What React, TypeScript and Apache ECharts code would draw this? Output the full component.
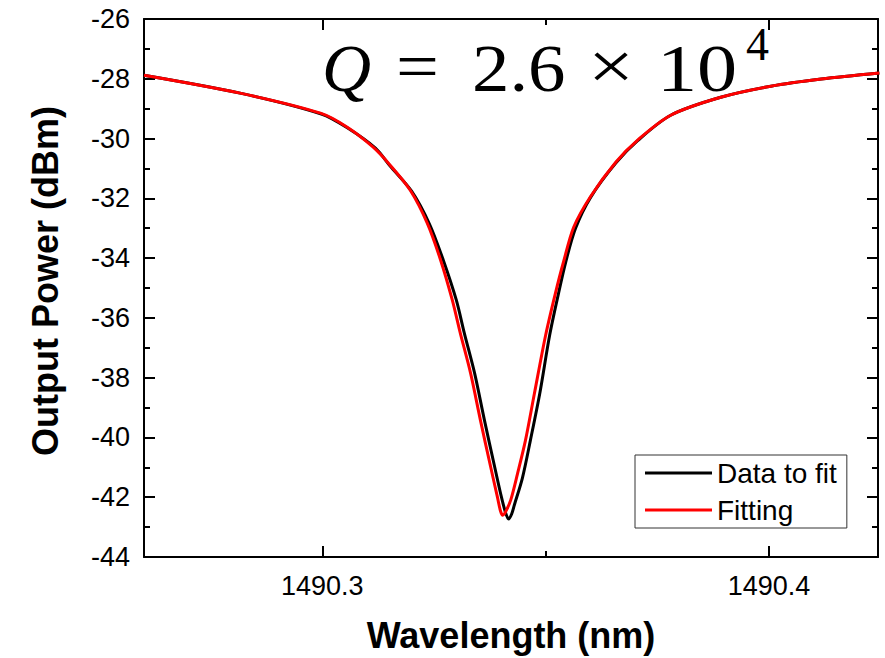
import React, { useEffect, useRef } from "react";
import * as echarts from "echarts";

// Measured transmission dip (black) and Lorentzian fit (red)
const wavelengthData = [
  1490.2601, 1490.2816, 1490.2998, 1490.3056, 1490.3119, 1490.3152, 1490.32,
  1490.324, 1490.3271, 1490.33, 1490.3318, 1490.3341, 1490.3363, 1490.3386,
  1490.3401, 1490.341, 1490.3417, 1490.3424, 1490.343, 1490.3448, 1490.3466,
  1490.3487, 1490.3509, 1490.3529, 1490.3545, 1490.3567, 1490.3601, 1490.3657,
  1490.3706, 1490.378, 1490.3892, 1490.4004, 1490.4117, 1490.4247,
];
const powerData = [
  -27.88, -28.48, -29.18, -29.64, -30.32, -30.92, -31.76, -32.86, -34.07, -35.4,
  -36.51, -37.85, -39.42, -40.99, -41.99, -42.5, -42.73, -42.56, -42.26, -41.36,
  -40.09, -38.52, -36.58, -35.17, -34.13, -33.0, -31.96, -30.82, -30.07, -29.22,
  -28.62, -28.25, -28.01, -27.81,
];

const wavelengthFit = [
  1490.2601, 1490.2816, 1490.2996, 1490.3056, 1490.3114, 1490.3152, 1490.3197,
  1490.3235, 1490.3265, 1490.3291, 1490.3309, 1490.3332, 1490.3354, 1490.3377,
  1490.3392, 1490.3399, 1490.3404, 1490.341, 1490.3422, 1490.3437, 1490.3455,
  1490.3475, 1490.35, 1490.3522, 1490.354, 1490.3563, 1490.3601, 1490.3657,
  1490.3706, 1490.378, 1490.3892, 1490.4004, 1490.4117, 1490.4247,
];
const powerFit = [
  -27.88, -28.48, -29.15, -29.62, -30.29, -30.89, -31.73, -32.83, -34.07, -35.4,
  -36.51, -37.85, -39.42, -40.99, -41.99, -42.46, -42.6, -42.5, -42.09, -41.22,
  -40.09, -38.52, -36.58, -35.17, -34.13, -32.96, -31.93, -30.79, -30.05, -29.22,
  -28.62, -28.25, -28.01, -27.81,
];

const xMajorTicks = [1490.3, 1490.4];
const xMinorTicks = [1490.35];
const xRange = [1490.2601, 1490.4244];
const yRange = [-44, -26];

const AXIS_COLOR = "#000";
const SANS = "Liberation Sans, Arial, sans-serif";
const SERIF = "Liberation Serif, Times New Roman, serif";

function zip(xs: number[], ys: number[]) {
  return xs.map((x, i) => [x, ys[i]]);
}

export default function App() {
  const ref = useRef<HTMLDivElement>(null);

  useEffect(() => {
    if (!ref.current) return;
    const chart = echarts.init(ref.current, undefined, { renderer: "svg" });

    const baseX = {
      type: "value" as const,
      min: xRange[0],
      max: xRange[1],
      splitLine: { show: false },
    };

    const majorX = (position: "top" | "bottom", labels: boolean) => ({
      ...baseX,
      position,
      axisLine: { show: true, onZero: false, lineStyle: { color: AXIS_COLOR, width: 2 } },
      axisTick: {
        show: true,
        inside: true,
        length: 11,
        customValues: xMajorTicks,
        lineStyle: { color: AXIS_COLOR, width: 2 },
      },
      axisLabel: labels
        ? {
            show: true,
            customValues: xMajorTicks,
            margin: 15,
            color: "#000",
            fontFamily: SANS,
            fontSize: 27,
            formatter: (v: number) => v.toFixed(1),
          }
        : { show: false },
      ...(labels
        ? {
            name: "Wavelength (nm)",
            nameLocation: "middle" as const,
            nameGap: 60,
            nameTextStyle: {
              color: "#000",
              fontFamily: SANS,
              fontSize: 36,
              fontWeight: "bold" as const,
            },
          }
        : {}),
    });

    const minorX = (position: "top" | "bottom") => ({
      ...baseX,
      position,
      axisLine: { show: false, onZero: false },
      axisTick: {
        show: true,
        inside: true,
        length: 6,
        customValues: xMinorTicks,
        lineStyle: { color: AXIS_COLOR, width: 2 },
      },
      axisLabel: { show: false },
    });

    const yAxisFor = (position: "left" | "right", labels: boolean) => ({
      type: "value" as const,
      position,
      min: yRange[0],
      max: yRange[1],
      interval: 2,
      splitLine: { show: false },
      axisLine: { show: true, onZero: false, lineStyle: { color: AXIS_COLOR, width: 2 } },
      axisTick: { show: true, inside: true, length: 11, lineStyle: { color: AXIS_COLOR, width: 2 } },
      minorTick: {
        show: true,
        splitNumber: 2,
        length: 6,
        lineStyle: { color: AXIS_COLOR, width: 2 },
      },
      axisLabel: labels
        ? { show: true, margin: 14, color: "#000", fontFamily: SANS, fontSize: 27 }
        : { show: false },
      ...(labels
        ? {
            name: "Output Power (dBm)",
            nameLocation: "middle" as const,
            nameGap: 81,
            nameTextStyle: {
              color: "#000",
              fontFamily: SANS,
              fontSize: 36,
              fontWeight: "bold" as const,
              padding: [0, 0, 0, 14],
            },
          }
        : {}),
    });

    const qStyle = { fill: "#000", fontFamily: SERIF, fontSize: 68, verticalAlign: "middle" as const };

    chart.setOption({
      animation: false,
      backgroundColor: "#fff",
      grid: { left: 144, right: 7, top: 19, bottom: 101, containLabel: false },
      xAxis: [majorX("bottom", true), majorX("top", false), minorX("bottom"), minorX("top")],
      yAxis: [yAxisFor("left", true), yAxisFor("right", false)],
      legend: {
        orient: "vertical",
        left: 635,
        top: 455,
        padding: [4, 10, 4, 10],
        itemGap: 9,
        itemWidth: 67,
        itemHeight: 3,
        backgroundColor: "#fff",
        borderColor: "#333",
        borderWidth: 1,
        borderRadius: 0,
        textStyle: { color: "#000", fontFamily: SANS, fontSize: 28, lineHeight: 28 },
        data: [
          { name: "Data to fit", icon: "rect" },
          { name: "Fitting", icon: "rect" },
        ],
      },
      graphic: [
        { type: "text", x: 322, y: 68, style: { ...qStyle, text: "Q", fontStyle: "italic" } },
        { type: "text", x: 396, y: 66, scaleX: 1.12, style: { ...qStyle, text: "=" } },
        { type: "text", x: 472, y: 68, scaleX: 1.1, style: { ...qStyle, text: "2.6" } },
        { type: "text", x: 588, y: 66, scaleX: 1.2, style: { ...qStyle, text: "×" } },
        { type: "text", x: 657, y: 68, scaleX: 1.18, style: { ...qStyle, text: "10" } },
        { type: "text", x: 746, y: 44, style: { ...qStyle, text: "4", fontSize: 46 } },
      ],
      series: [
        {
          name: "Data to fit",
          type: "line",
          xAxisIndex: 0,
          yAxisIndex: 0,
          data: zip(wavelengthData, powerData),
          showSymbol: false,
          symbol: "none",
          smooth: 0.3,
          color: "#000",
          lineStyle: { color: "#000", width: 3 },
          z: 2,
        },
        {
          name: "Fitting",
          type: "line",
          xAxisIndex: 0,
          yAxisIndex: 0,
          data: zip(wavelengthFit, powerFit),
          showSymbol: false,
          symbol: "none",
          smooth: 0.3,
          color: "#ff0000",
          lineStyle: { color: "#ff0000", width: 3 },
          z: 3,
        },
      ],
    });

    return () => chart.dispose();
  }, []);

  return (
    <div
      ref={ref}
      style={{ position: "absolute", left: 0, top: 0, width: 885, height: 658, background: "#fff" }}
    />
  );
}
